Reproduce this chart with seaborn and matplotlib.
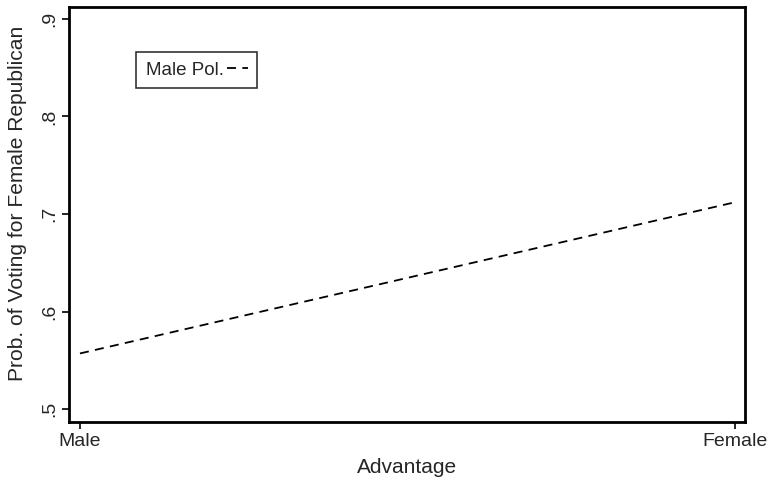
import matplotlib
matplotlib.use("Agg")
import matplotlib.pyplot as plt
import seaborn as sns
import pandas as pd

# values
advantage = [0, 1]
prob_male_pol = [0.557, 0.712]
x_ticklabels = ["Male", "Female"]
y_ticks = [0.5, 0.6, 0.7, 0.8, 0.9]
y_ticklabels = [".5", ".6", ".7", ".8", ".9"]

df = pd.DataFrame({"advantage": advantage, "prob": prob_male_pol, "group": "Male Pol."})

sns.set_style("white")
plt.rcParams['font.family'] = ['Liberation Sans', 'DejaVu Sans']

fig = plt.figure(figsize=(7.68, 4.82), dpi=100)
ax = fig.add_axes([0.0898, 0.1245, 0.880, 0.861])

sns.lineplot(data=df, x="advantage", y="prob", hue="group", palette=["black"],
             ax=ax, linewidth=1.3, dashes=False, linestyle=(0, (5, 3.5)))

ax.set_xlim(-0.0168, 1.0153)
ax.set_ylim(0.4867, 0.9123)
ax.set_xticks(advantage)
ax.set_xticklabels(x_ticklabels, fontsize=14)
ax.set_yticks(y_ticks)
ax.set_yticklabels(y_ticklabels, fontsize=14, rotation=90, va="center")
ax.tick_params(axis="both", direction="out", length=5, width=1.2, color="black",
               left=True, bottom=True, pad=3)
for s in ax.spines.values():
    s.set_linewidth(2)
    s.set_color("black")

ax.set_xlabel("Advantage", fontsize=15, labelpad=6)
ax.set_ylabel("Prob. of Voting for Female Republican", fontsize=15.1)
ax.yaxis.set_label_coords(-0.0625, 0.527)

leg = ax.legend(loc="upper left", bbox_to_anchor=(0.0996, 0.891), fontsize=13.5,
                frameon=True, fancybox=False, markerfirst=False,
                handlelength=1.1, handletextpad=0.2, borderpad=0.5, borderaxespad=0)
leg.get_frame().set_edgecolor("black")
leg.get_frame().set_linewidth(1.2)

fig.savefig("out.png", dpi=100)
